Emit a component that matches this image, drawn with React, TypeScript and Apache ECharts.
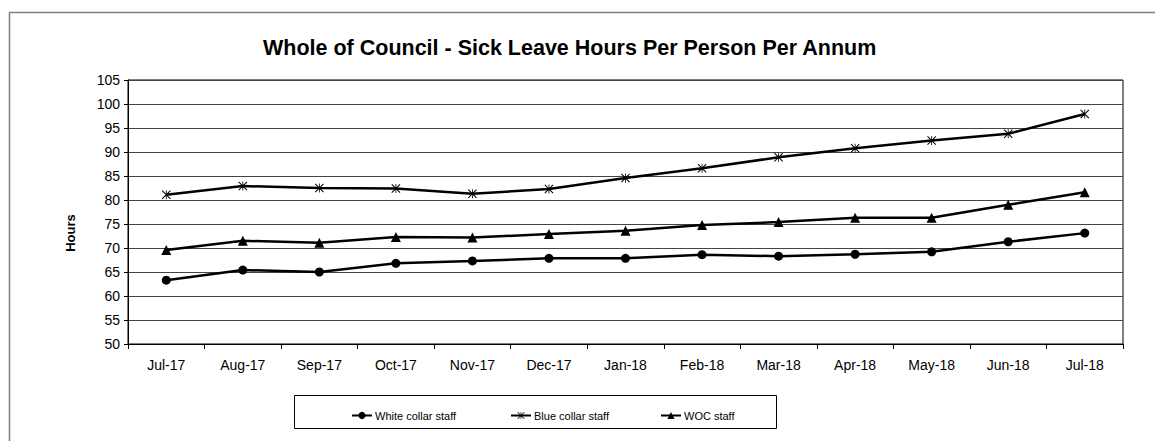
import React, { useEffect, useRef } from "react";
import * as echarts from "echarts";

const categories = ["Jul-17", "Aug-17", "Sep-17", "Oct-17", "Nov-17", "Dec-17", "Jan-18", "Feb-18", "Mar-18", "Apr-18", "May-18", "Jun-18", "Jul-18"];
const whiteCollar = [63.3, 65.4, 65.0, 66.8, 67.3, 67.85, 67.85, 68.6, 68.3, 68.7, 69.2, 71.3, 73.1];
const blueCollar = [81.1, 82.9, 82.5, 82.4, 81.3, 82.3, 84.6, 86.6, 88.9, 90.8, 92.4, 93.8, 97.9];
const wocStaff = [69.6, 71.5, 71.1, 72.3, 72.2, 72.9, 73.6, 74.8, 75.4, 76.3, 76.3, 79.0, 81.6];
const yTicks = { min: 50, max: 105, interval: 5 };

const ASTERISK = "path://M0 0.8L0.8 0L10 9.2L9.2 10Z M9.2 0L10 0.8L0.8 10L0 9.2Z M4.55 0H5.45V10H4.55Z";
const FONT = "Liberation Sans";

export default function App() {
  const ref = useRef<HTMLDivElement>(null);
  useEffect(() => {
    document.body.style.margin = "0";
    const chart = echarts.init(ref.current!, null, { renderer: "svg" });
    const lineStyle = { color: "#000", width: 2.5 };
    const legendBase = {
      top: 405,
      itemWidth: 20,
      itemHeight: 9,
      itemGap: 6,
      textStyle: { fontFamily: FONT, fontSize: 11, color: "#000", padding: [0, 0, 0, -2] },
    };
    chart.setOption({
      animation: false,
      backgroundColor: "#fff",
      textStyle: { fontFamily: FONT },
      title: {
        text: "Whole of Council - Sick Leave Hours Per Person Per Annum",
        left: 258,
        top: 32,
        textStyle: { fontFamily: FONT, fontSize: 21.5, fontWeight: "bold", color: "#000" },
      },
      grid: { left: 128, right: 32, top: 80, bottom: 97, show: true, borderColor: "#000", borderWidth: 1 },
      legend: [
        { ...legendBase, left: 346, data: ["White collar staff"] },
        { ...legendBase, left: 505, data: ["Blue collar staff"] },
        { ...legendBase, left: 655, data: ["WOC staff"] },
      ],
      xAxis: {
        type: "category",
        data: categories,
        boundaryGap: true,
        axisLine: { lineStyle: { color: "#000", width: 1 } },
        axisTick: { show: true, length: 5, inside: false, lineStyle: { color: "#000" } },
        axisLabel: { color: "#000", fontSize: 14, fontFamily: FONT, margin: 14 },
      },
      yAxis: {
        type: "value",
        min: yTicks.min,
        max: yTicks.max,
        interval: yTicks.interval,
        axisLine: { show: true, lineStyle: { color: "#000", width: 1 } },
        axisTick: { show: true, length: 4, lineStyle: { color: "#000" } },
        axisLabel: { color: "#000", fontSize: 14, fontFamily: FONT, margin: 8 },
        splitLine: { show: true, lineStyle: { color: "#444", width: 1 } },
      },
      series: [
        {
          name: "White collar staff",
          type: "line",
          data: whiteCollar,
          symbol: "circle",
          symbolSize: 9,
          itemStyle: { color: "#000" },
          lineStyle,
        },
        {
          name: "Blue collar staff",
          type: "line",
          data: blueCollar,
          symbol: ASTERISK,
          symbolSize: 9,
          itemStyle: { color: "#000" },
          lineStyle,
        },
        {
          name: "WOC staff",
          type: "line",
          data: wocStaff,
          symbol: "triangle",
          symbolSize: 10,
          itemStyle: { color: "#000" },
          lineStyle,
        },
      ],
      graphic: [
        {
          type: "rect",
          silent: true,
          shape: { x: 9.5, y: 12.5, width: 1200, height: 500 },
          style: { fill: "none", stroke: "#7f7f7f", lineWidth: 1.5 },
          z: -1,
        },
        {
          type: "rect",
          silent: true,
          shape: { x: 294.5, y: 395.5, width: 482, height: 33 },
          style: { fill: "none", stroke: "#000", lineWidth: 1 },
        },
        {
          type: "text",
          x: 70,
          y: 233,
          rotation: Math.PI / 2,
          style: {
            text: "Hours",
            fontFamily: FONT,
            fontSize: 13,
            fontWeight: "bold",
            fill: "#000",
            align: "center",
            verticalAlign: "middle",
          },
        },
      ],
    });
    return () => chart.dispose();
  }, []);
  return <div ref={ref} style={{ width: 1155, height: 441 }} />;
}
